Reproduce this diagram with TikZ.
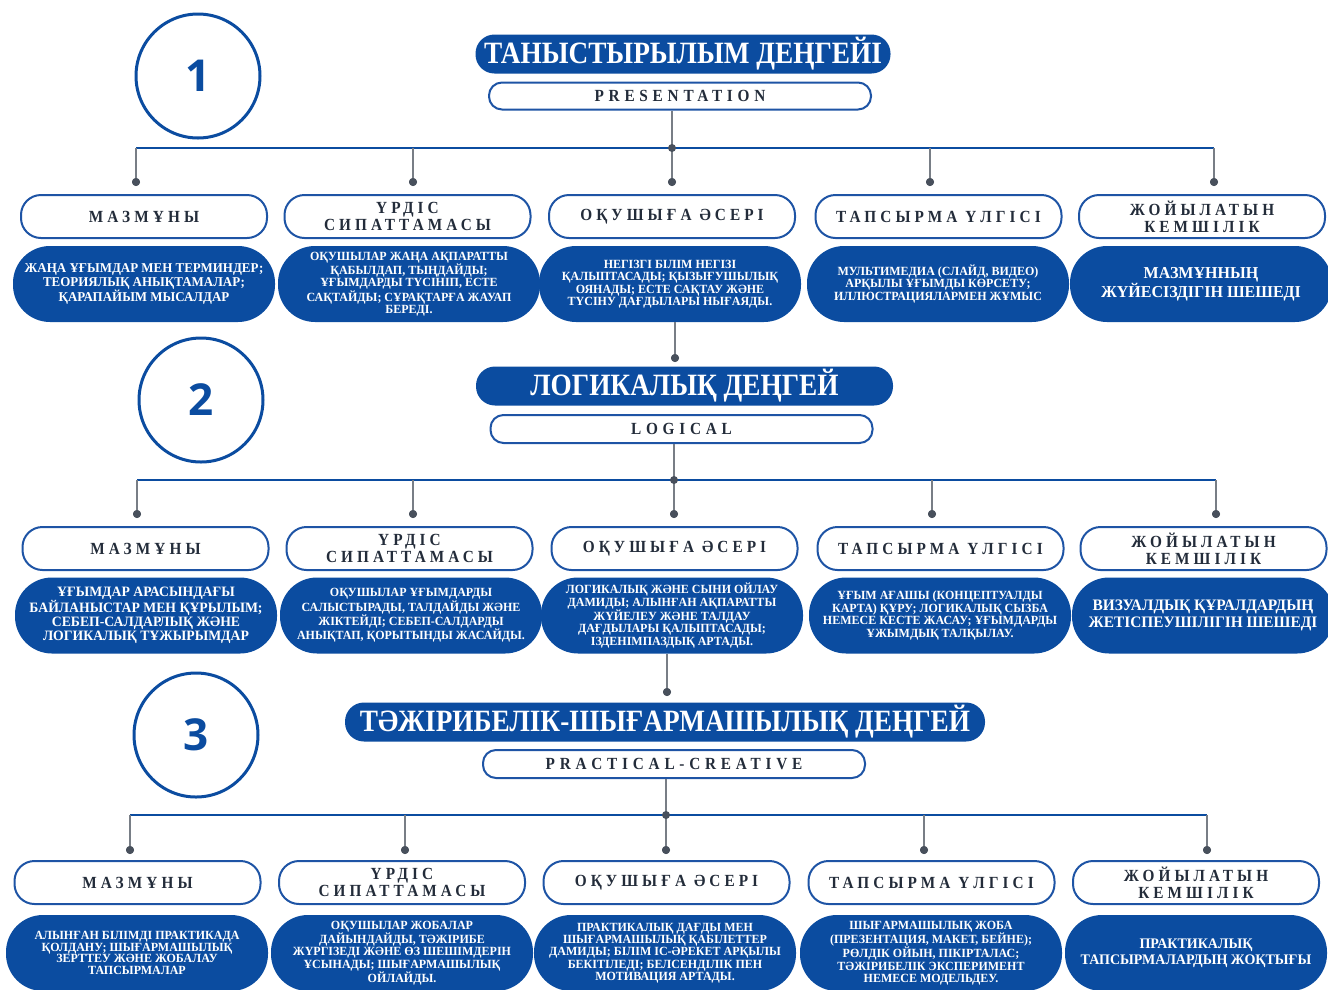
\documentclass[tikz,border=0pt]{standalone}
\usepackage{fontspec}
\setmainfont{Liberation Serif}
\newfontfamily\numfont{Open Sans}
\newfontfamily\cfont[FakeStretch=0.96]{Liberation Serif}
\newfontfamily\tfont[FakeStretch=0.88]{Liberation Serif}
\newfontfamily\spfont[LetterSpace=28,FakeStretch=0.9]{Liberation Serif}
\newfontfamily\hdfont[LetterSpace=24,FakeStretch=0.9]{Liberation Serif}
\definecolor{dblue}{RGB}{11,76,160}
\definecolor{bord}{RGB}{30,84,165}
\definecolor{dtext}{RGB}{35,44,58}
\definecolor{lgray}{RGB}{120,126,134}
\definecolor{dotc}{RGB}{72,80,92}
\newcommand{\bbf}[2]{\cfont\bfseries\fontsize{#1}{#2}\selectfont}
\tikzset{
  numcirc/.style={circle,draw=dblue,line width=3pt,minimum size=124pt,inner sep=0pt,text=dblue,font=\numfont\bfseries\fontsize{44}{44}\selectfont},
  ttl/.style={fill=dblue,rounded corners=19pt,minimum height=39pt,inner sep=0pt,text=white,font=\tfont\bfseries\fontsize{31}{31}\selectfont},
  subt/.style={draw=bord,line width=2pt,fill=white,rounded corners=13pt,minimum width=382pt,minimum height=27pt,inner sep=0pt,text=dtext,font=\spfont\bfseries\fontsize{17}{17}\selectfont},
  hd/.style={draw=bord,line width=2pt,fill=white,rounded corners=20pt,minimum width=246pt,minimum height=43pt,inner sep=0pt,text=dtext,align=center,font=\hdfont\bfseries\fontsize{17}{17}\selectfont},
  bb/.style={fill=dblue,rounded corners=37pt,minimum width=262pt,minimum height=76pt,inner sep=0pt,text=white,align=center,font=\bbf{12.5}{12.4}},
  bus/.style={draw=dblue,line width=2.2pt},
  drop/.style={draw=lgray,line width=1.6pt},
  dot/.style={circle,fill=dotc,minimum size=8pt,inner sep=0pt},
}
\begin{document}
\begin{tikzpicture}[x=1pt,y=-1pt]
\useasboundingbox (0,0) rectangle (1328,989);
\clip (0,0) rectangle (1328,989);
% ================= ROW 1 =================
\node[numcirc] (c1) at (198,76) {1};
\node[ttl,minimum width=415pt] (t1) at (683,54) {ТАНЫСТЫРЫЛЫМ ДЕҢГЕЙІ};
\node[subt] (s1) at (680,96) {PRESENTATION};
\coordinate (j1) at (672,148);
\coordinate (ba1) at (136,148);
\coordinate (be1) at (1214,148);
\draw[drop] (j1 |- s1.south) -- (j1);
\draw[bus] (ba1) -- (be1);
\node[dot] (d11) at (136,182) {};
\node[dot] (d12) at (413,182) {};
\node[dot] (d13) at (672,182) {};
\node[dot] (d14) at (930,182) {};
\node[dot] (d15) at (1214,182) {};
\foreach \k in {1,...,5} {\draw[drop] (d1\k |- j1) -- (d1\k.center);}
\node[dot] (jd1) at (j1) {};
\foreach \k in {1,...,5} {\node[dot] at (d1\k) {};}
\node[hd] (h11) at (144,216.5) {МАЗМҰНЫ};
\node[hd] (h12) at (407.5,216.5) {ҮРДІС\\СИПАТТАМАСЫ};
\node[hd] (h13) at (672,216.5) {ОҚУШЫҒА ӘСЕРІ};
\node[hd] (h14) at (938.5,216.5) {ТАПСЫРМА ҮЛГІСІ};
\node[hd] (h15) at (1202,216.5) {ЖОЙЫЛАТЫН\\КЕМШІЛІК};
\node[bb,font=\bbf{13.5}{13.5}] (b11) at (144,284) {ЖАҢА ҰҒЫМДАР МЕН ТЕРМИНДЕР;\\ТЕОРИЯЛЫҚ АНЫҚТАМАЛАР;\\ҚАРАПАЙЫМ МЫСАЛДАР};
\node[bb] (b12) at (409,284) {ОҚУШЫЛАР ЖАҢА АҚПАРАТТЫ\\ҚАБЫЛДАП, ТЫҢДАЙДЫ;\\ҰҒЫМДАРДЫ ТҮСІНІП, ЕСТЕ\\САҚТАЙДЫ; СҰРАҚТАРҒА ЖАУАП\\БЕРЕДІ.};
\node[bb] (b13) at (670,284) {НЕГІЗГІ БІЛІМ НЕГІЗІ\\ҚАЛЫПТАСАДЫ; ҚЫЗЫҒУШЫЛЫҚ\\ОЯНАДЫ; ЕСТЕ САҚТАУ ЖӘНЕ\\ТҮСІНУ ДАҒДЫЛАРЫ НЫҒАЯДЫ.};
\node[bb] (b14) at (938,284) {МУЛЬТИМЕДИА (СЛАЙД, ВИДЕО)\\АРҚЫЛЫ ҰҒЫМДЫ КӨРСЕТУ;\\ИЛЛЮСТРАЦИЯЛАРМЕН ЖҰМЫС};
\node[bb,font=\bbf{16.7}{17.5}] (b15) at (1201,284) {МАЗМҰННЫҢ\\ЖҮЙЕСІЗДІГІН ШЕШЕДІ};
% link row 1 -> row 2
\node[dot] (k1) at (675,358) {};
\draw[drop] (k1 |- b13.south) -- (k1.center);
\node[dot] at (k1) {};
% ================= ROW 2 =================
\node[numcirc] (c2) at (201,400) {2};
\node[ttl,minimum width=417pt] (t2) at (684.5,386) {ЛОГИКАЛЫҚ ДЕҢГЕЙ};
\node[subt,minimum height=28pt] (s2) at (681.5,429) {LOGICAL};
\coordinate (j2) at (674,480);
\coordinate (ba2) at (137,480);
\coordinate (be2) at (1216,480);
\draw[drop] (j2 |- s2.south) -- (j2);
\draw[bus] (ba2) -- (be2);
\node[dot] (d21) at (137,514) {};
\node[dot] (d22) at (413,514) {};
\node[dot] (d23) at (674,514) {};
\node[dot] (d24) at (932,514) {};
\node[dot] (d25) at (1216,514) {};
\foreach \k in {1,...,5} {\draw[drop] (d2\k |- j2) -- (d2\k.center);}
\node[dot] (jd2) at (j2) {};
\foreach \k in {1,...,5} {\node[dot] at (d2\k) {};}
\node[hd] (h21) at (145.5,548.5) {МАЗМҰНЫ};
\node[hd] (h22) at (409.5,548.5) {ҮРДІС\\СИПАТТАМАСЫ};
\node[hd] (h23) at (674.5,548.5) {ОҚУШЫҒА ӘСЕРІ};
\node[hd] (h24) at (940.5,548.5) {ТАПСЫРМА ҮЛГІСІ};
\node[hd] (h25) at (1203.5,548.5) {ЖОЙЫЛАТЫН\\КЕМШІЛІК};
\node[bb,font=\bbf{14.3}{14}] (b21) at (146,615.5) {ҰҒЫМДАР АРАСЫНДАҒЫ\\БАЙЛАНЫСТАР МЕН ҚҰРЫЛЫМ;\\СЕБЕП-САЛДАРЛЫҚ ЖӘНЕ\\ЛОГИКАЛЫҚ ТҰЖЫРЫМДАР};
\node[bb] (b22) at (411,615.5) {ОҚУШЫЛАР ҰҒЫМДАРДЫ\\САЛЫСТЫРАДЫ, ТАЛДАЙДЫ ЖӘНЕ\\ЖІКТЕЙДІ; СЕБЕП-САЛДАРДЫ\\АНЫҚТАП, ҚОРЫТЫНДЫ ЖАСАЙДЫ.};
\node[bb] (b23) at (672,615.5) {ЛОГИКАЛЫҚ ЖӘНЕ СЫНИ ОЙЛАУ\\ДАМИДЫ; АЛЫНҒАН АҚПАРАТТЫ\\ЖҮЙЕЛЕУ ЖӘНЕ ТАЛДАУ\\ДАҒДЫЛАРЫ ҚАЛЫПТАСАДЫ;\\ІЗДЕНІМПАЗДЫҚ АРТАДЫ.};
\node[bb] (b24) at (940,615.5) {ҰҒЫМ АҒАШЫ (КОНЦЕПТУАЛДЫ\\КАРТА) ҚҰРУ; ЛОГИКАЛЫҚ СЫЗБА\\НЕМЕСЕ КЕСТЕ ЖАСАУ; ҰҒЫМДАРДЫ\\ҰЖЫМДЫҚ ТАЛҚЫЛАУ.};
\node[bb,font=\bbf{16}{17}] (b25) at (1203,615.5) {ВИЗУАЛДЫҚ ҚҰРАЛДАРДЫҢ\\ЖЕТІСПЕУШІЛІГІН ШЕШЕДІ};
% link row 2 -> row 3
\node[dot] (k2) at (667,692) {};
\draw[drop] (k2 |- b23.south) -- (k2.center);
\node[dot] at (k2) {};
% ================= ROW 3 =================
\node[numcirc] (c3) at (196,735) {3};
\node[ttl,minimum width=640pt] (t3) at (665,722) {ТӘЖІРИБЕЛІК-ШЫҒАРМАШЫЛЫҚ ДЕҢГЕЙ};
\node[subt,minimum height=28pt] (s3) at (674,764) {PRACTICAL-CREATIVE};
\coordinate (j3) at (666,815);
\coordinate (ba3) at (130,815);
\coordinate (be3) at (1207,815);
\draw[drop] (j3 |- s3.south) -- (j3);
\draw[bus] (ba3) -- (be3);
\node[dot] (d31) at (130,850) {};
\node[dot] (d32) at (405,850) {};
\node[dot] (d33) at (666,850) {};
\node[dot] (d34) at (924,850) {};
\node[dot] (d35) at (1207,850) {};
\foreach \k in {1,...,5} {\draw[drop] (d3\k |- j3) -- (d3\k.center);}
\node[dot] (jd3) at (j3) {};
\foreach \k in {1,...,5} {\node[dot] at (d3\k) {};}
\node[hd] (h31) at (137.5,882.5) {МАЗМҰНЫ};
\node[hd] (h32) at (402,882.5) {ҮРДІС\\СИПАТТАМАСЫ};
\node[hd] (h33) at (666.5,882.5) {ОҚУШЫҒА ӘСЕРІ};
\node[hd] (h34) at (931.5,882.5) {ТАПСЫРМА ҮЛГІСІ};
\node[hd] (h35) at (1196,882.5) {ЖОЙЫЛАТЫН\\КЕМШІЛІК};
\node[bb,font=\bbf{12.5}{11.8}] (b31) at (137,953) {АЛЫНҒАН БІЛІМДІ ПРАКТИКАДА\\ҚОЛДАНУ; ШЫҒАРМАШЫЛЫҚ\\ЗЕРТТЕУ ЖӘНЕ ЖОБАЛАУ\\ТАПСЫРМАЛАР};
\node[bb] (b32) at (402,953) {ОҚУШЫЛАР ЖОБАЛАР\\ДАЙЫНДАЙДЫ, ТӘЖІРИБЕ\\ЖҮРГІЗЕДІ ЖӘНЕ ӨЗ ШЕШІМДЕРІН\\ҰСЫНАДЫ; ШЫҒАРМАШЫЛЫҚ\\ОЙЛАЙДЫ.};
\node[bb] (b33) at (665,953) {ПРАКТИКАЛЫҚ ДАҒДЫ МЕН\\ШЫҒАРМАШЫЛЫҚ ҚАБІЛЕТТЕР\\ДАМИДЫ; БІЛІМ ІС-ӘРЕКЕТ АРҚЫЛЫ\\БЕКІТІЛЕДІ; БЕЛСЕНДІЛІК ПЕН\\МОТИВАЦИЯ АРТАДЫ.};
\node[bb] (b34) at (931,953) {ШЫҒАРМАШЫЛЫҚ ЖОБА\\(ПРЕЗЕНТАЦИЯ, МАКЕТ, БЕЙНЕ);\\РӨЛДІК ОЙЫН, ПІКІРТАЛАС;\\ТӘЖІРИБЕЛІК ЭКСПЕРИМЕНТ\\НЕМЕСЕ МОДЕЛЬДЕУ.};
\node[bb,font=\bbf{14.6}{15.5}] (b35) at (1196,953) {ПРАКТИКАЛЫҚ\\ТАПСЫРМАЛАРДЫҢ ЖОҚТЫҒЫ};
\end{tikzpicture}
\end{document}
